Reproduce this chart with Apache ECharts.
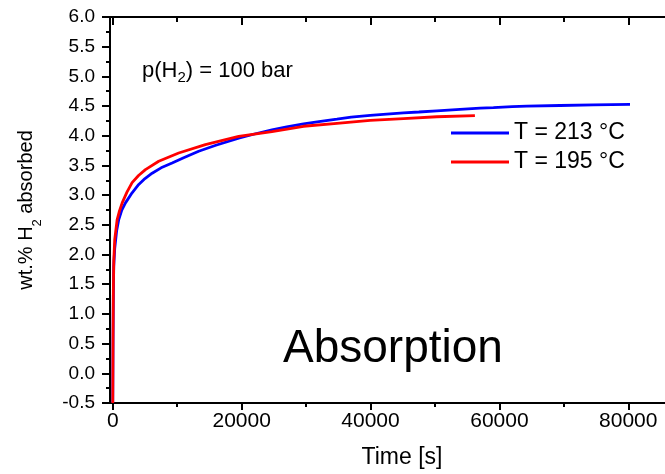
<!DOCTYPE html>
<html>
<head>
<meta charset="utf-8">
<script src="https://cdn.jsdelivr.net/npm/echarts@6/dist/echarts.min.js"></script>
<style>
  html, body { margin: 0; padding: 0; background: #fff; }
  #main { width: 665px; height: 474px; }
</style>
</head>
<body>
<div id="main"></div>
<script>
// T = 213 °C (blue)
var time213 = [0, 40, 90, 150, 300, 600, 930, 1400, 1970, 3000, 4030, 5000, 6110, 7500, 9210, 11000, 13330, 16000, 19540, 22000, 24710, 27000, 29610, 32000, 34790, 37000, 39950, 42500, 45120, 47500, 50290, 53890, 57000, 59070, 62000, 64250, 69410, 74580, 80270];
var wt213 = [-0.5, 0.5, 1.3, 1.8, 2.1, 2.4, 2.59, 2.75, 2.87, 3.04, 3.18, 3.28, 3.37, 3.46, 3.54, 3.63, 3.74, 3.84, 3.96, 4.03, 4.10, 4.15, 4.20, 4.24, 4.28, 4.315, 4.345, 4.365, 4.385, 4.40, 4.42, 4.445, 4.465, 4.475, 4.49, 4.50, 4.51, 4.52, 4.53];

// T = 195 °C (red)
var time195 = [0, 40, 90, 155, 300, 680, 1000, 1460, 2200, 3000, 4000, 5070, 7130, 10230, 14370, 19540, 24710, 29610, 34790, 39950, 45120, 50290, 56200];
var wt195 = [-0.5, 0.6, 1.4, 1.9, 2.25, 2.59, 2.72, 2.87, 3.05, 3.21, 3.33, 3.43, 3.57, 3.71, 3.85, 3.99, 4.07, 4.16, 4.21, 4.26, 4.29, 4.32, 4.34];

var xMajorTicks = [0, 20000, 40000, 60000, 80000];
var xMinorTicks = [10000, 30000, 50000, 70000];

var font = 'Liberation Sans, Arial, sans-serif';

function pairs(xs, ys) {
  return xs.map(function (x, i) { return [x, ys[i]]; });
}

var chart = echarts.init(document.getElementById('main'));

// x axes: main (labels+major ticks), minor ticks, and the top frame line
function xAx(pos, ticks, len, inside, showLine, showLabel) {
  return {
    type: 'value',
    position: pos,
    min: -430,
    max: 85700,
    axisLine: { show: showLine, onZero: false, lineStyle: { color: '#000', width: 2 } },
    axisTick: { show: true, inside: inside, length: len, customValues: ticks, lineStyle: { color: '#000', width: 2 } },
    axisLabel: showLabel ? {
      show: true, customValues: ticks, fontSize: 21, color: '#000', fontFamily: font, margin: 8,
      formatter: function (v) { return String(v); }
    } : { show: false },
    splitLine: { show: false }
  };
}

var xMain = xAx('bottom', xMajorTicks, 7, false, true, true);
xMain.name = 'Time [s]';
xMain.nameLocation = 'middle';
xMain.nameGap = 43;
xMain.nameTextStyle = { fontSize: 23, color: '#000', fontFamily: font, padding: [0, 0, 0, 29] };

var option = {
  animation: false,
  backgroundColor: '#fff',
  grid: { left: 109.5, top: 17, right: 0, height: 387 },
  xAxis: [
    xMain,
    xAx('bottom', xMinorTicks, 4, false, false, false),
    xAx('top', xMajorTicks, 8, true, true, false),
    xAx('top', xMinorTicks, 5, true, false, false)
  ],
  yAxis: {
    type: 'value',
    min: -0.5,
    max: 6,
    interval: 0.5,
    axisLine: { show: true, onZero: false, lineStyle: { color: '#000', width: 2 } },
    axisTick: { show: true, length: 8, lineStyle: { color: '#000', width: 2 } },
    minorTick: { show: true, splitNumber: 2, length: 4, lineStyle: { color: '#000', width: 2 } },
    axisLabel: {
      formatter: function (v) { return v.toFixed(1); },
      fontSize: 19, color: '#000', fontFamily: font, margin: 15
    },
    splitLine: { show: false },
    name: 'wt.% H{sub|2} absorbed',
    nameLocation: 'middle',
    nameGap: 66,
    nameTextStyle: {
      fontSize: 20, color: '#000', fontFamily: font, lineHeight: 36,
      rich: { sub: { fontSize: 13, lineHeight: 13, verticalAlign: 'bottom', color: '#000', fontFamily: font } }
    }
  },
  legend: {
    orient: 'vertical',
    left: 446,
    top: 116.5,
    itemWidth: 58,
    itemHeight: 3,
    itemGap: 6,
    icon: 'rect',
    textStyle: { fontSize: 23, color: '#000', fontFamily: font },
    data: ['T = 213 °C', 'T = 195 °C']
  },
  graphic: [
    {
      type: 'text', x: 142, y: 71,
      style: {
        text: 'p(H{sub|2}) = 100 bar',
        font: '22px ' + font, fill: '#000',
        textAlign: 'left', textVerticalAlign: 'middle', lineHeight: 28,
        rich: { sub: { fontSize: 15, lineHeight: 15, verticalAlign: 'bottom', fontFamily: font } }
      }
    },
    {
      type: 'text', x: 283, y: 349,
      style: { text: 'Absorption', font: '46px ' + font, fill: '#000', textAlign: 'left', textVerticalAlign: 'middle' }
    }
  ],
  series: [
    {
      name: 'T = 213 °C', type: 'line', xAxisIndex: 0, showSymbol: false, symbol: 'none',
      lineStyle: { color: '#0000ff', width: 2.8 }, itemStyle: { color: '#0000ff' },
      data: pairs(time213, wt213)
    },
    {
      name: 'T = 195 °C', type: 'line', xAxisIndex: 0, showSymbol: false, symbol: 'none',
      lineStyle: { color: '#ff0000', width: 2.8 }, itemStyle: { color: '#ff0000' },
      data: pairs(time195, wt195)
    }
  ]
};

chart.setOption(option);
</script>
</body>
</html>
